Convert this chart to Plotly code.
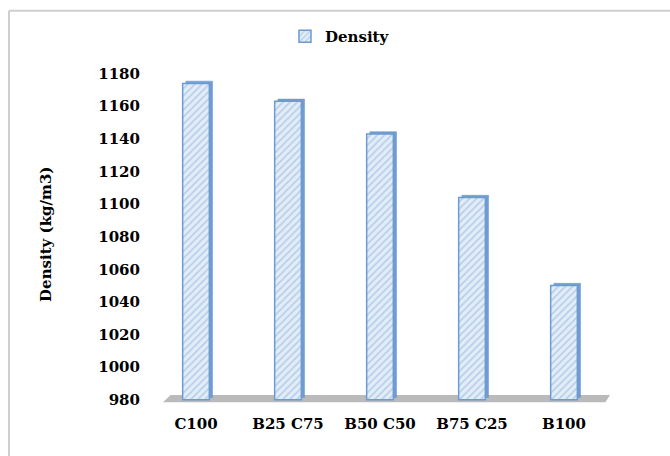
import plotly.graph_objects as go

categories = ["C100", "B25 C75", "B50 C50", "B75 C25", "B100"]
density = [1174, 1163, 1143, 1104, 1050]
y_ticks = [980, 1000, 1020, 1040, 1060, 1080, 1100, 1120, 1140, 1160, 1180]

BASE = 980
font_family = "DejaVu Serif"

fig = go.Figure()

# depth (side/top) of the pseudo-3D bars
fig.add_trace(go.Bar(
    x=categories, y=[v - BASE for v in density], base=[BASE + 1.4] * len(density),
    width=0.29, offset=-0.145 + 0.035,
    marker=dict(color="#719cd2", line=dict(color="#6a96cc", width=0.5)),
    showlegend=False, hoverinfo="skip",
))
# front face
fig.add_trace(go.Bar(
    x=categories, y=[v - BASE for v in density], base=[BASE] * len(density),
    width=0.29, offset=-0.145, name="Density",
    marker=dict(
        color="#dfeaf7",
        line=dict(color="#6d9ad0", width=1.5),
        pattern=dict(shape="/", fgcolor="#8fb2dc", bgcolor="#e3edf8", size=5, solidity=0.35),
    ),
))

fig.update_layout(
    width=670, height=456,
    margin=dict(l=150, r=60, t=62, b=53),
    paper_bgcolor="white", plot_bgcolor="white",
    barmode="overlay",
    font=dict(family=font_family, size=15, color="black"),
    showlegend=True,
    legend=dict(orientation="h", x=0.413, xanchor="center", y=0.92, yanchor="middle",
                yref="container", itemwidth=30,
                font=dict(size=15, family=font_family, weight="bold")),
    xaxis=dict(showgrid=False, showline=False, zeroline=False, ticks="",
               tickfont=dict(size=15, family=font_family, weight="bold"),
               ticklabelstandoff=10),
    yaxis=dict(range=[978, 1185], tickvals=y_ticks, showgrid=False, showline=False,
               zeroline=False, ticks="", ticklabelstandoff=9,
               tickfont=dict(size=15, family=font_family, weight="bold"),
               title=dict(text="<b>Density (kg/m3)</b>", standoff=42,
                          font=dict(size=15, family=font_family))),
    shapes=[
        # gray floor
        dict(type="path", xref="paper", yref="y", layer="below",
             path="M 0.028 978.4 L 0.045 982.9 L 1.0 982.9 L 0.99 978.4 Z",
             fillcolor="#bababa", line=dict(width=0)),
        # chart border (top and left)
        dict(type="line", xref="paper", yref="paper", x0=-0.3065, x1=1.2, y0=1.162, y1=1.162,
             line=dict(color="#cfcfcf", width=2)),
        dict(type="line", xref="paper", yref="paper", x0=-0.3065, x1=-0.3065, y0=1.162, y1=-0.2,
             line=dict(color="#cfcfcf", width=2)),
    ],
)

fig.write_html("out.html")
